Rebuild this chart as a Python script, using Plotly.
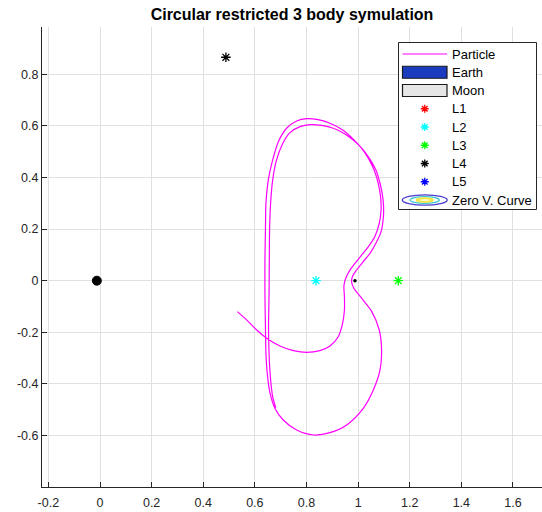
import plotly.graph_objects as go

# Trajectory of the particle in the rotating frame (one continuous path)
traj_x = [0.532, 0.568, 0.607, 0.646, 0.697, 0.749, 0.801, 0.852, 0.891, 0.923,
          0.940, 0.947, 0.947, 0.945, 0.949, 0.956, 0.969, 0.988, 1.014, 1.040,
          1.065, 1.082, 1.089, 1.087, 1.078, 1.062,
          1.040, 1.014, 0.982, 0.943, 0.891, 0.840, 0.801, 0.762, 0.723, 0.691,
          0.669, 0.652, 0.643, 0.641, 0.639, 0.639, 0.641, 0.643, 0.648, 0.659,
          0.678, 0.710, 0.762, 0.827, 0.891, 0.956, 1.020, 1.059, 1.085, 1.091,
          1.082, 1.053, 1.027, 1.005, 0.984, 0.975, 0.978, 0.992, 1.020, 1.046,
          1.069, 1.089, 1.098, 1.098, 1.091, 1.078, 1.069,
          1.046, 1.020, 0.988, 0.949, 0.904, 0.859, 0.814, 0.775, 0.736, 0.708,
          0.684, 0.669, 0.661, 0.657, 0.656, 0.655, 0.653, 0.655, 0.660, 0.669,
          0.681]
traj_y = [-0.120, -0.152, -0.191, -0.223, -0.253, -0.271, -0.278, -0.271, -0.253, -0.217,
          -0.165, -0.114, -0.062, -0.023, 0.000, 0.018, 0.042, 0.067, 0.100, 0.132,
          0.171, 0.222, 0.274, 0.326, 0.377, 0.429,
          0.474, 0.513, 0.548, 0.582, 0.610, 0.625, 0.628, 0.619, 0.591, 0.539,
          0.468, 0.390, 0.300, 0.196, 0.080, -0.049, -0.178, -0.282, -0.359, -0.437,
          -0.495, -0.540, -0.579, -0.598, -0.589, -0.559, -0.495, -0.424, -0.346, -0.269,
          -0.191, -0.120, -0.085, -0.057, -0.030, -0.006, 0.016, 0.039, 0.074, 0.106,
          0.145, 0.190, 0.248, 0.300, 0.351, 0.403, 0.429,
          0.470, 0.507, 0.539, 0.569, 0.591, 0.602, 0.605, 0.597, 0.574, 0.532,
          0.468, 0.390, 0.300, 0.196, 0.080, -0.049, -0.178, -0.282, -0.372, -0.449,
          -0.492]

# Primaries
earth_xy = (-0.0122, 0.0)
moon_xy = (0.9878, 0.0)

# Lagrange points as labelled in the legend
lagrange_names = ["L1", "L2", "L3", "L4", "L5"]
lagrange_x = [-1.0051, 0.8369, 1.1557, 0.4878, 0.4878]
lagrange_y = [0.0, 0.0, 0.0, 0.8660, -0.8660]
lagrange_colors = ["#ff0000", "#00ffff", "#00ff00", "#000000", "#0000ff"]

x_ticks = [-0.2, 0, 0.2, 0.4, 0.6, 0.8, 1, 1.2, 1.4, 1.6]
x_tick_text = ["-0.2", "0", "0.2", "0.4", "0.6", "0.8", "1", "1.2", "1.4", "1.6"]
y_ticks = [-0.6, -0.4, -0.2, 0, 0.2, 0.4, 0.6, 0.8]
y_tick_text = ["-0.6", "-0.4", "-0.2", "0", "0.2", "0.4", "0.6", "0.8"]

legend_labels = ["Particle", "Earth", "Moon"] + lagrange_names + ["Zero V. Curve"]

FONT = "Liberation Sans, Arial, sans-serif"
AXIS_COLOR = "#262626"
GRID_COLOR = "#e0e0e0"
MAGENTA = "#ff00ff"

W, H = 542, 512
M_L, M_R, M_T, M_B = 42, 0, 27, 25

fig = go.Figure()

fig.add_trace(go.Scatter(
    x=traj_x, y=traj_y, mode="lines",
    line=dict(color=MAGENTA, width=1.2, shape="spline", smoothing=0.8),
    showlegend=False, hoverinfo="skip"))

fig.add_trace(go.Scatter(
    x=[earth_xy[0]], y=[earth_xy[1]], mode="markers",
    marker=dict(symbol="circle", size=9, color="#000000",
                line=dict(color="#000000", width=1)),
    showlegend=False, hoverinfo="skip"))

fig.add_trace(go.Scatter(
    x=[moon_xy[0]], y=[moon_xy[1]], mode="markers",
    marker=dict(symbol="circle", size=3.5, color="#000000"),
    showlegend=False, hoverinfo="skip"))

for name, lx, ly, col in zip(lagrange_names, lagrange_x, lagrange_y, lagrange_colors):
    fig.add_trace(go.Scatter(
        x=[lx], y=[ly], mode="markers", name=name,
        marker=dict(symbol="asterisk-open", size=8, color=col,
                    line=dict(color=col, width=1.3)),
        showlegend=False, hoverinfo="skip"))

# ---- hand-built legend box (pixel coordinates on an overlay axis pair) ----
shapes = []
annotations = []
box_l, box_r, box_t, box_b = 398.5, 536.5, 42.5, 209.5
row0, row_h = 54.0, 18.25
icon_l, icon_r = 402.5, 447.0
icon_c = 0.5 * (icon_l + icon_r)
text_x = 450.0

shapes.append(dict(type="rect", xref="x2", yref="y2", x0=box_l, x1=box_r,
                   y0=box_t, y1=box_b, fillcolor="#ffffff",
                   line=dict(color=AXIS_COLOR, width=1), layer="above"))

for i, label in enumerate(legend_labels):
    yc = row0 + i * row_h
    annotations.append(dict(xref="x2", yref="y2", x=text_x, y=yc, text=label,
                            showarrow=False, xanchor="left", yanchor="middle",
                            font=dict(family=FONT, size=13, color="#000000")))
    if label == "Particle":
        shapes.append(dict(type="line", xref="x2", yref="y2", x0=icon_l, x1=icon_r,
                           y0=yc, y1=yc, line=dict(color=MAGENTA, width=1.2),
                           layer="above"))
    elif label == "Earth":
        shapes.append(dict(type="rect", xref="x2", yref="y2", x0=icon_l, x1=icon_r,
                           y0=yc - 6, y1=yc + 6, fillcolor="#1c3cbf",
                           line=dict(color="#1a1a1a", width=1.2), layer="above"))
    elif label == "Moon":
        shapes.append(dict(type="rect", xref="x2", yref="y2", x0=icon_l, x1=icon_r,
                           y0=yc - 6, y1=yc + 6, fillcolor="#e6e6e6",
                           line=dict(color="#1a1a1a", width=1.2), layer="above"))
    elif label in lagrange_names:
        col = lagrange_colors[lagrange_names.index(label)]
        r = 4.0
        d = r * 0.7071
        path = (f"M{icon_c - r},{yc} L{icon_c + r},{yc} "
                f"M{icon_c},{yc - r} L{icon_c},{yc + r} "
                f"M{icon_c - d},{yc - d} L{icon_c + d},{yc + d} "
                f"M{icon_c - d},{yc + d} L{icon_c + d},{yc - d}")
        shapes.append(dict(type="path", xref="x2", yref="y2", path=path,
                           line=dict(color=col, width=1.3), layer="above"))
    else:
        for rx, ry, col, wd in [(22.5, 5.2, "#4a3ccc", 1.3),
                                (14.5, 3.4, "#3cc6d2", 1.3),
                                (8.0, 1.8, "#f2e63c", 2.0)]:
            shapes.append(dict(type="circle", xref="x2", yref="y2",
                               x0=icon_c - rx, x1=icon_c + rx,
                               y0=yc - ry, y1=yc + ry,
                               line=dict(color=col, width=wd), layer="above"))

x_range = [(M_L - 100) / 258.1, (W - 100) / 258.1]
y_range = [-(H - M_B - 280.7) / 258.0, (280.7 - M_T) / 258.0]

fig.update_layout(
    width=W, height=H,
    margin=dict(l=M_L, r=M_R, t=M_T, b=M_B, autoexpand=False),
    paper_bgcolor="#ffffff", plot_bgcolor="#ffffff",
    showlegend=False,
    title=dict(text="Circular restricted 3 body symulation",
               x=292 / W, xanchor="center", y=1 - 14.5 / H, yanchor="middle",
               font=dict(family=FONT, size=16, color="#000000", weight="bold")),
    xaxis=dict(range=x_range, tickvals=x_ticks, ticktext=x_tick_text,
               showgrid=True, gridcolor=GRID_COLOR, gridwidth=1,
               zeroline=False, showline=True, linecolor=AXIS_COLOR, linewidth=1,
               ticks="inside", ticklen=5, tickcolor=AXIS_COLOR,
               ticklabelstandoff=4, automargin=False,
               tickfont=dict(family=FONT, size=12.5, color=AXIS_COLOR),
               mirror=False),
    yaxis=dict(range=y_range, tickvals=y_ticks, ticktext=y_tick_text,
               showgrid=True, gridcolor=GRID_COLOR, gridwidth=1,
               zeroline=False, showline=True, linecolor=AXIS_COLOR, linewidth=1,
               ticks="inside", ticklen=5, tickcolor=AXIS_COLOR, automargin=False,
               tickfont=dict(family=FONT, size=12.5, color=AXIS_COLOR),
               mirror=False),
    xaxis2=dict(range=[M_L, W - M_R], overlaying="x", anchor="y2", visible=False,
                fixedrange=True, automargin=False),
    yaxis2=dict(range=[H - M_B, M_T], overlaying="y", anchor="x2", visible=False,
                fixedrange=True, automargin=False),
    shapes=shapes,
    annotations=annotations,
)

# keep the overlay axis pair alive with an empty trace
fig.add_trace(go.Scatter(x=[], y=[], xaxis="x2", yaxis="y2", showlegend=False))

fig.write_html("out.html")
